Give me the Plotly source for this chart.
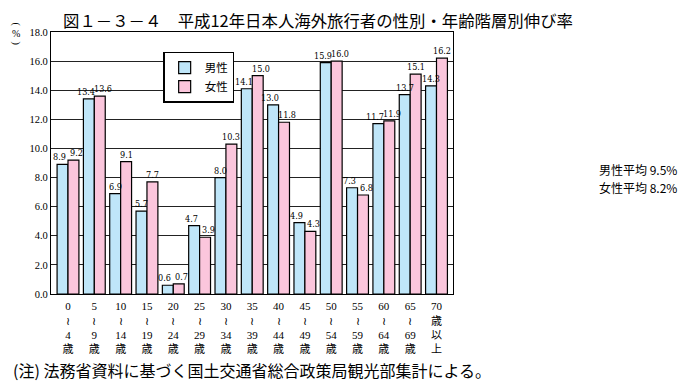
import plotly.graph_objects as go

categories = ["0-4", "5-9", "10-14", "15-19", "20-24", "25-29", "30-34", "35-39",
              "40-44", "45-49", "50-54", "55-59", "60-64", "65-69", "70+"]
tick_labels = ["0<br>≀<br>4<br>歳", "5<br>≀<br>9<br>歳", "10<br>≀<br>14<br>歳",
               "15<br>≀<br>19<br>歳", "20<br>≀<br>24<br>歳", "25<br>≀<br>29<br>歳",
               "30<br>≀<br>34<br>歳", "35<br>≀<br>39<br>歳", "40<br>≀<br>44<br>歳",
               "45<br>≀<br>49<br>歳", "50<br>≀<br>54<br>歳", "55<br>≀<br>59<br>歳",
               "60<br>≀<br>64<br>歳", "65<br>≀<br>69<br>歳", "70<br>歳<br>以<br>上"]
male = [8.9, 13.4, 6.9, 5.7, 0.6, 4.7, 8.0, 14.1, 13.0, 4.9, 15.9, 7.3, 11.7, 13.7, 14.3]
female = [9.2, 13.6, 9.1, 7.7, 0.7, 3.9, 10.3, 15.0, 11.8, 4.3, 16.0, 6.8, 11.9, 15.1, 16.2]
y_ticks = [0, 2, 4, 6, 8, 10, 12, 14, 16, 18]

FONT = "Liberation Serif, DejaVu Serif, Noto Sans CJK JP"
NARROW = "DejaVu Serif Condensed, Liberation Sans Narrow, Liberation Serif"
JP = "Noto Sans CJK JP"

fig = go.Figure()
fig.add_trace(go.Bar(
    x=categories, y=male, name="男性",
    marker=dict(color="#bfe6f9", line=dict(color="black", width=1.2)),
))
fig.add_trace(go.Bar(
    x=categories, y=female, name="女性",
    marker=dict(color="#fbc6dc", line=dict(color="black", width=1.2)),
))

# value labels placed over each bar; close pairs are nudged apart
for i, c in enumerate(categories):
    m, f = male[i], female[i]
    close = abs(m - f) < 1.2
    fig.add_annotation(x=c, y=m, text=f"{m:.1f}", showarrow=False,
                       xshift=-5.5 - (3 if close else 0), yshift=7,
                       font=dict(size=9, family=NARROW, color="black"))
    fig.add_annotation(x=c, y=f, text=f"{f:.1f}", showarrow=False,
                       xshift=5.5 + (3 if close else 0), yshift=7,
                       font=dict(size=9, family=NARROW, color="black"))

fig.update_layout(
    width=679, height=377,
    margin=dict(l=43, r=234, t=24, b=91),
    paper_bgcolor="white", plot_bgcolor="white",
    bargap=0.17, bargroupgap=0,
    font=dict(family=FONT, color="black"),
    showlegend=True,
    legend=dict(x=0.279, y=0.925, xanchor="left", yanchor="top",
                bgcolor="white", bordercolor="black", borderwidth=1.5,
                font=dict(size=11.5, family=JP),
                tracegroupgap=0, itemwidth=30),
    xaxis=dict(type="category", tickvals=categories, ticktext=tick_labels,
               tickfont=dict(size=11), showline=True, linecolor="black",
               linewidth=1.2, mirror=True, ticks="", showgrid=False,
               ticklabelstandoff=2),
    yaxis=dict(range=[0, 18], tickvals=y_ticks,
               ticktext=[f"{v:.1f}" for v in y_ticks],
               tickfont=dict(size=10.5), showline=True, linecolor="black",
               linewidth=1.2, mirror=True, ticks="",
               showgrid=True, gridcolor="#222", gridwidth=1),
)

fig.add_annotation(
    text="図１－３－４　平成12年日本人海外旅行者の性別・年齢階層別伸び率",
    xref="paper", yref="paper", x=0.025, y=1.0, yshift=12.5,
    xanchor="left", yanchor="middle", showarrow=False,
    font=dict(size=16.4, family=JP, color="black"),
)
# vertical "(%)" unit marker
fig.add_annotation(
    text="(", xref="paper", yref="paper", x=-0.088, y=1.0, yshift=8,
    xanchor="center", yanchor="middle", showarrow=False, textangle=90,
    font=dict(size=10, family=FONT),
)
fig.add_annotation(
    text="%", xref="paper", yref="paper", x=-0.088, y=1.0, yshift=-1,
    xanchor="center", yanchor="middle", showarrow=False,
    font=dict(size=10, family=FONT),
)
fig.add_annotation(
    text=")", xref="paper", yref="paper", x=-0.088, y=1.0, yshift=-11,
    xanchor="center", yanchor="middle", showarrow=False, textangle=90,
    font=dict(size=10, family=FONT),
)
fig.add_annotation(
    text="男性平均 9.5%", xref="paper", yref="paper",
    x=1.357, y=0.474, xanchor="left", yanchor="middle", showarrow=False,
    font=dict(size=12, family=JP),
)
fig.add_annotation(
    text="女性平均 8.2%", xref="paper", yref="paper",
    x=1.357, y=0.405, xanchor="left", yanchor="middle", showarrow=False,
    font=dict(size=12, family=JP),
)
fig.add_annotation(
    text="(注) 法務省資料に基づく国土交通省総合政策局観光部集計による。",
    xref="paper", yref="paper", x=-0.1, y=-0.29,
    xanchor="left", yanchor="middle", showarrow=False,
    font=dict(size=16, family=JP),
)

fig.write_html("out.html")
